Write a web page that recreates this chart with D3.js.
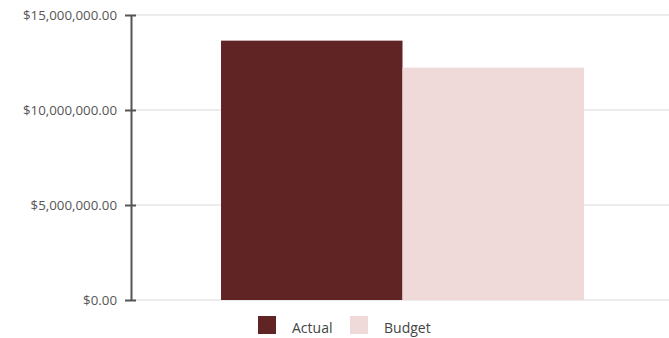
<!DOCTYPE html>
<html><head><meta charset="utf-8">
<script src="https://cdn.jsdelivr.net/npm/d3@7"></script>
<style>body{margin:0;background:#fff}svg{display:block}text{font-family:"Open Sans","Noto Sans",sans-serif}</style>
</head><body><svg id="c" width="669" height="338"></svg>
<script>
const categories = [""];
const seriesNames = ["Actual", "Budget"];
const actualValues = [13650000];
const budgetValues = [12230000];
const yTicks = [0, 5000000, 10000000, 15000000];
const colors = ["#612424", "#f0d9d9"];

const svg = d3.select("#c");
const mLeft = 131, mRight = 669, mTop = 15, mBottom = 300;
const y = d3.scaleLinear().domain([0, 15000000]).range([mBottom, mTop]);
const x0 = d3.scaleBand().domain(categories).range([mLeft, 674]).paddingOuter(0.248).paddingInner(0);
const x1 = d3.scaleBand().domain(seriesNames).range([0, x0.bandwidth()]);
const fmt = d => "$" + d3.format(",.2f")(d);

// gridlines
svg.append("g").selectAll("line").data(yTicks).join("line")
  .attr("x1", mLeft).attr("x2", mRight)
  .attr("y1", d => y(d)).attr("y2", d => y(d))
  .attr("stroke", "#e6e6e6").attr("stroke-width", 1.5);

const rows = categories.map((c, i) => ({cat: c, vals: [actualValues[i], budgetValues[i]]}));
svg.append("g").selectAll("g").data(rows).join("g")
  .attr("transform", d => `translate(${x0(d.cat)},0)`)
  .selectAll("rect").data(d => d.vals.map((v, j) => ({name: seriesNames[j], v, j}))).join("rect")
  .attr("x", d => x1(d.name)).attr("width", x1.bandwidth())
  .attr("y", d => y(d.v)).attr("height", d => y(0) - y(d.v))
  .attr("fill", d => colors[d.j]);

// axis
const ax = svg.append("g").attr("transform", `translate(${mLeft},0)`)
  .call(d3.axisLeft(y).tickValues(yTicks).tickFormat(fmt).tickSizeInner(6).tickSizeOuter(0).tickPadding(10));
ax.select(".domain").attr("stroke", "#555").attr("stroke-width", 2);
ax.selectAll(".tick line").attr("stroke", "#555").attr("stroke-width", 2).attr("x1", 5).attr("x2", -6);
ax.selectAll(".tick text").attr("fill", "#555").attr("font-size", 13.3).attr("x", -14);

// legend
const lg = svg.append("g");
const lx = [258, 350];
seriesNames.forEach((n, i) => {
  lg.append("rect").attr("x", lx[i]).attr("y", 316).attr("width", 18).attr("height", 18).attr("fill", colors[i]);
  lg.append("text").attr("x", lx[i] + 34).attr("y", 333).attr("font-size", 14).attr("fill", "#444").text(n);
});
</script></body></html>
